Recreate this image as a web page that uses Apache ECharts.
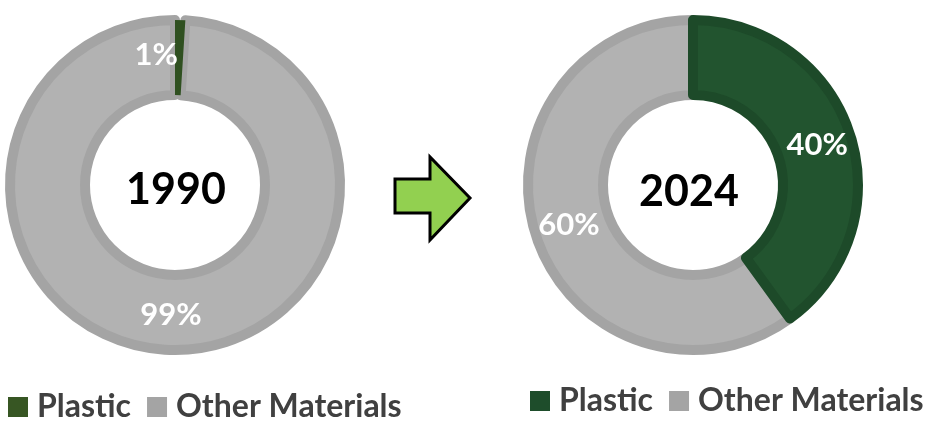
<!DOCTYPE html>
<html><head><meta charset="utf-8">
<script src="https://cdn.jsdelivr.net/npm/echarts@6/dist/echarts.min.js"></script>
<style>html,body{margin:0;padding:0;background:#fff}#c{width:930px;height:425px}</style>
</head><body><div id="c"></div>
<script>
const categories = ['Plastic', 'Other Materials'];
const years = ['1990', '2024'];
const values1990 = [1, 99];
const values2024 = [40, 60];

const FONT = 'Lato';
const greens = ['#2f5020', '#22542f'];
const greenBorders = ['#2f5020', '#1d4a29'];
const legendGreens = ['#375623', '#1e4d2b'];
const grayFill = '#b2b2b2', grayBorder = '#a4a4a4';

function makeSeries(vals, idx, center, plasticBorder) {
  const total = vals[0] + vals[1];
  // draw "Other" first so the plastic slice sits on top; plastic starts at 12 o'clock, clockwise
  const startAngle = 90 + 360 * vals[1] / total;
  return {
    type: 'pie', name: years[idx], center: center, radius: [90, 165],
    startAngle: startAngle, clockwise: true, silent: true,
    legendHoverLink: false,
    label: { show: true, position: 'inside', color: '#fff', fontFamily: FONT, fontWeight: 'bold', fontSize: 31,
      formatter: p => p.value + '%' },
    labelLine: { show: false },
    labelLayout: p => (idx === 0 && p.dataIndex === 1) ? { dx: -23 } : {},
    emphasis: { disabled: true },
    data: [
      { name: categories[1], value: vals[1], itemStyle: { color: grayFill, borderColor: grayBorder, borderWidth: 10 } },
      { name: categories[0], value: vals[0], itemStyle: { color: greens[idx], borderColor: greenBorders[idx], borderWidth: plasticBorder } }
    ]
  };
}

function makeLegend(idx, left, top) {
  return {
    left: left, top: top, orient: 'horizontal', icon: 'rect', itemWidth: 20, itemHeight: 20, itemGap: 16,
    selectedMode: false,
    itemStyle: { borderWidth: 0 },
    textStyle: { fontFamily: FONT, fontWeight: 'bold', fontSize: 32, color: '#404040', padding: [0, 0, 0, 4] },
    data: [
      { name: categories[0], itemStyle: { color: legendGreens[idx], borderWidth: 0 } },
      { name: categories[1], itemStyle: { color: grayBorder, borderWidth: 0 } }
    ]
  };
}

const chart = echarts.init(document.getElementById('c'), null, { renderer: 'canvas' });
chart.setOption({
  animation: false,
  backgroundColor: '#fff',
  legend: [makeLegend(0, 3, 386), makeLegend(1, 525, 380)],
  series: [
    makeSeries(values1990, 0, [175, 185], 0),
    makeSeries(values2024, 1, [693, 185], 10)
  ],
  graphic: [
    { type: 'text', x: 176, y: 190, style: { text: years[0], fill: '#000', font: 'bold 43px Lato', textAlign: 'center', textVerticalAlign: 'middle' } },
    { type: 'text', x: 689, y: 192, style: { text: years[1], fill: '#000', font: 'bold 43px Lato', textAlign: 'center', textVerticalAlign: 'middle' } },
    { type: 'polygon', shape: { points: [[395, 179], [430, 179], [430, 157], [470, 198], [430, 240], [430, 213], [395, 213]] },
      style: { fill: '#92d050', stroke: '#000', lineWidth: 3 } }
  ]
});
</script></body></html>
